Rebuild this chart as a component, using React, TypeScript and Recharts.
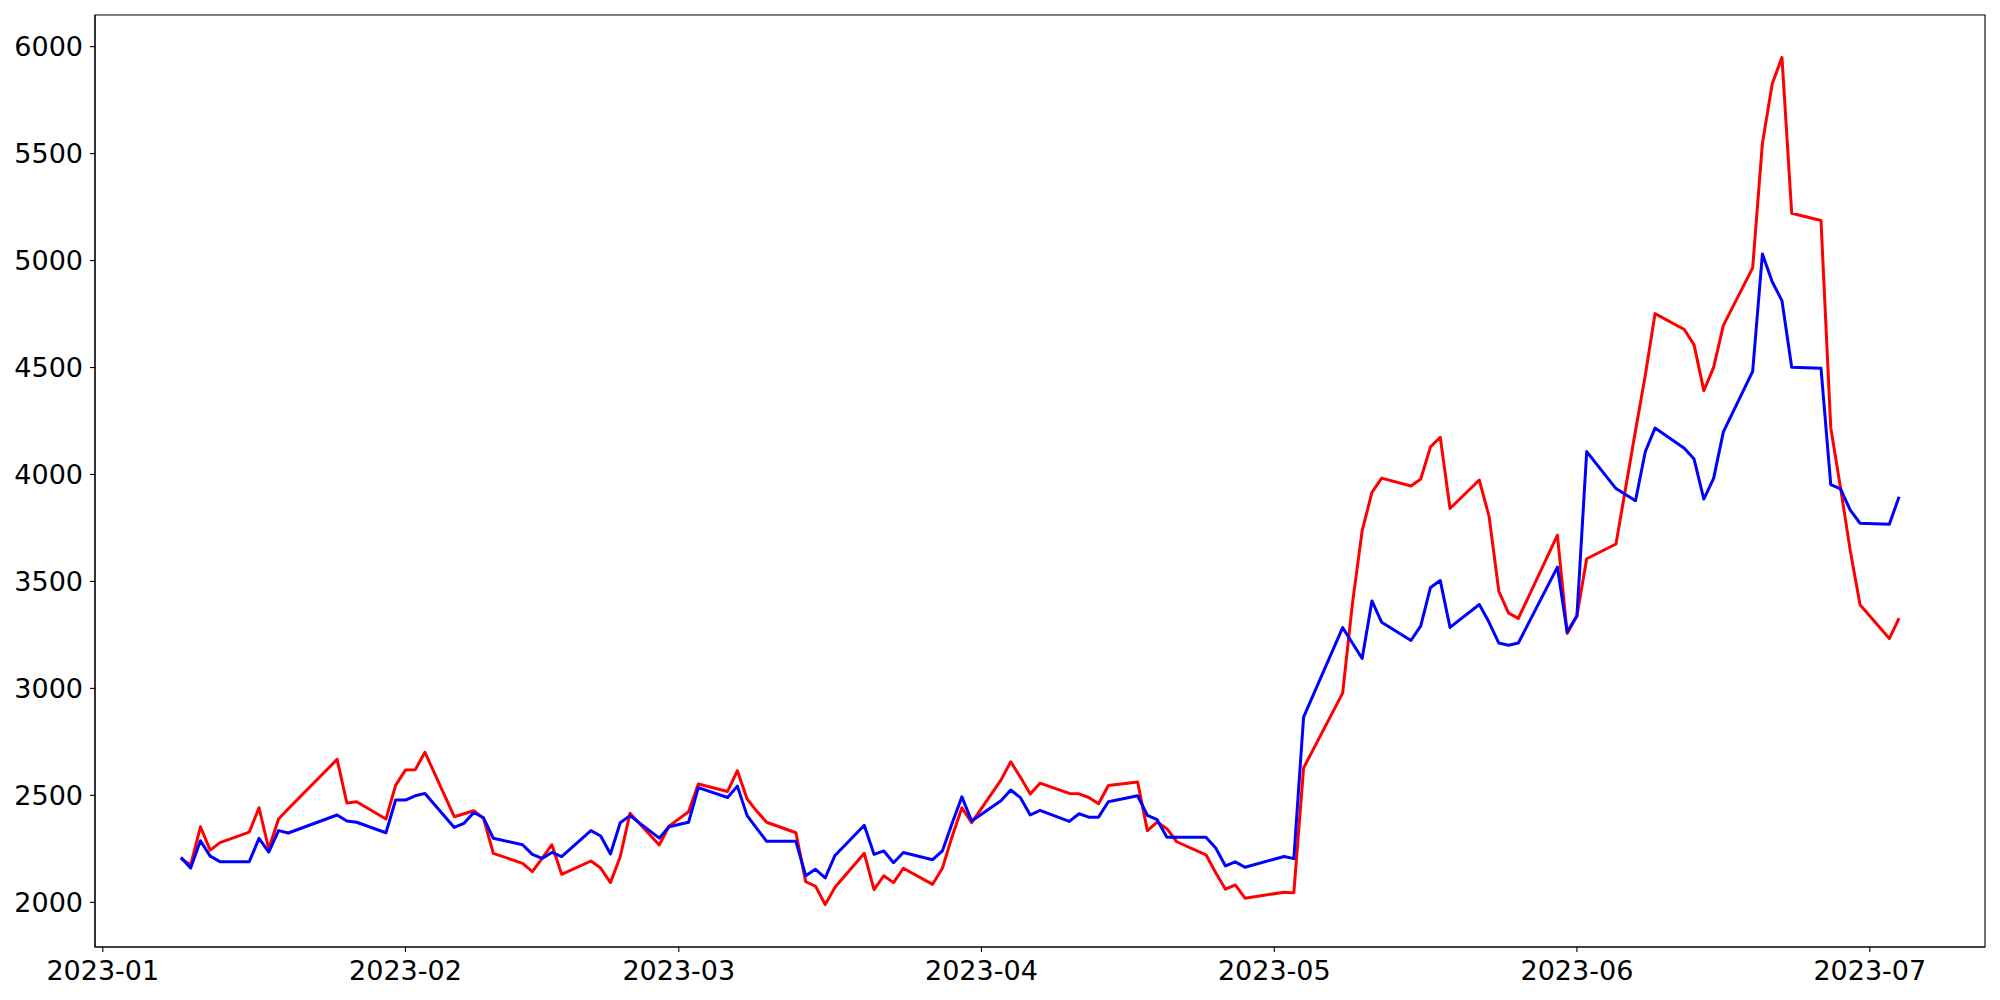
import React from 'react';
import { LineChart, Line, XAxis, YAxis, ReferenceArea } from 'recharts';

// Trading days (Korean market calendar, 2023-01-09 .. 2023-07-04)
const dates: string[] = [
  '2023-01-09', '2023-01-10', '2023-01-11', '2023-01-12', '2023-01-13', '2023-01-16', '2023-01-17', '2023-01-18', '2023-01-19', '2023-01-20',
  '2023-01-25', '2023-01-26', '2023-01-27', '2023-01-30', '2023-01-31',
  '2023-02-01', '2023-02-02', '2023-02-03', '2023-02-06', '2023-02-07', '2023-02-08', '2023-02-09', '2023-02-10', '2023-02-13', '2023-02-14',
  '2023-02-15', '2023-02-16', '2023-02-17', '2023-02-20', '2023-02-21', '2023-02-22', '2023-02-23', '2023-02-24', '2023-02-27', '2023-02-28',
  '2023-03-02', '2023-03-03', '2023-03-06', '2023-03-07', '2023-03-08', '2023-03-09', '2023-03-10', '2023-03-13', '2023-03-14', '2023-03-15',
  '2023-03-16', '2023-03-17', '2023-03-20', '2023-03-21', '2023-03-22', '2023-03-23', '2023-03-24', '2023-03-27', '2023-03-28', '2023-03-29',
  '2023-03-30', '2023-03-31',
  '2023-04-03', '2023-04-04', '2023-04-05', '2023-04-06', '2023-04-07', '2023-04-10', '2023-04-11', '2023-04-12', '2023-04-13', '2023-04-14',
  '2023-04-17', '2023-04-18', '2023-04-19', '2023-04-20', '2023-04-21', '2023-04-24', '2023-04-25', '2023-04-26', '2023-04-27', '2023-04-28',
  '2023-05-02', '2023-05-03', '2023-05-04', '2023-05-08', '2023-05-09', '2023-05-10', '2023-05-11', '2023-05-12', '2023-05-15', '2023-05-16',
  '2023-05-17', '2023-05-18', '2023-05-19', '2023-05-22', '2023-05-23', '2023-05-24', '2023-05-25', '2023-05-26', '2023-05-30', '2023-05-31',
  '2023-06-01', '2023-06-02', '2023-06-05', '2023-06-07', '2023-06-08', '2023-06-09', '2023-06-12', '2023-06-13', '2023-06-14', '2023-06-15',
  '2023-06-16', '2023-06-19', '2023-06-20', '2023-06-21', '2023-06-22', '2023-06-23', '2023-06-26', '2023-06-27', '2023-06-28', '2023-06-29',
  '2023-06-30', '2023-07-03', '2023-07-04',
];

const redValues: number[] = [
  2205, 2174, 2353, 2244, 2279, 2328, 2442, 2249, 2389, 2437, 2668, 2464, 2470, 2389, 2548,
  2618, 2620, 2701, 2400, 2414, 2428, 2392, 2229, 2182, 2143, 2205, 2269, 2131, 2193, 2160, 2092, 2213, 2416, 2268, 2356,
  2423, 2553, 2518, 2615, 2483, 2425, 2374, 2325, 2096, 2076, 1989, 2070, 2229, 2059, 2124, 2092, 2159, 2084, 2159, 2308, 2442, 2372,
  2571, 2657, 2584, 2506, 2557, 2509, 2507, 2490, 2461, 2546, 2562, 2335, 2375, 2344, 2283, 2222, 2138, 2061, 2081, 2019,
  2047, 2044, 2628, 2978, 3395, 3737, 3916, 3983, 3946, 3979, 4129, 4174, 3841, 3974, 3804, 3454, 3352, 3327, 3716, 3257,
  3339, 3606, 3675, 4205, 4463, 4752, 4678, 4606, 4392, 4501, 4697, 4966, 5549, 5826, 5950, 5221, 5187, 4219, 3938, 3643, 3391,
  3233, 3328,
];

const blueValues: number[] = [
  2210, 2160, 2288, 2216, 2190, 2190, 2299, 2235, 2335, 2324, 2408, 2380, 2374, 2325, 2478,
  2478, 2498, 2509, 2350, 2369, 2420, 2395, 2299, 2269, 2224, 2205, 2233, 2213, 2335, 2310, 2226, 2372, 2405, 2300, 2353,
  2374, 2536, 2490, 2543, 2405, 2344, 2285, 2285, 2124, 2154, 2114, 2219, 2360, 2224, 2240, 2185, 2233, 2199, 2240, 2369, 2493, 2380,
  2475, 2525, 2489, 2408, 2430, 2378, 2414, 2398, 2398, 2470, 2498, 2406, 2386, 2304, 2304, 2304, 2254, 2170, 2189, 2164,
  2214, 2204, 2866, 3284, 3212, 3140, 3409, 3309, 3224, 3292, 3472, 3504, 3285, 3392, 3309, 3212, 3202, 3212, 3567, 3264,
  3339, 4107, 3934, 3877, 4106, 4217, 4123, 4072, 3885, 3982, 4199, 4482, 5031, 4901, 4813, 4501, 4497, 3953, 3933, 3833, 3772,
  3767, 3896,
];

const monthTickLabels: string[] = ['2023-01', '2023-02', '2023-03', '2023-04', '2023-05', '2023-06', '2023-07'];
const yTicks: number[] = [2000, 2500, 3000, 3500, 4000, 4500, 5000, 5500, 6000];

const toTs = (s: string) => Date.UTC(+s.slice(0, 4), +s.slice(5, 7) - 1, s.length > 7 ? +s.slice(8, 10) : 1);

const data = dates.map((d, i) => ({ t: toTs(d), red: redValues[i], blue: blueValues[i] }));
const tMin = data[0].t;
const tMax = data[data.length - 1].t;
const tSpan = tMax - tMin;
const xDomain: [number, number] = [tMin - 0.05 * tSpan, tMax + 0.05 * tSpan];
const allValues = [...redValues, ...blueValues];
const vMin = Math.min(...allValues);
const vMax = Math.max(...allValues);
const vSpan = vMax - vMin;
const yDomain: [number, number] = [vMin - 0.05 * vSpan, vMax + 0.05 * vSpan];
const monthTicks = monthTickLabels.map((m) => toTs(m));

const fmtMonth = (t: number) => {
  const d = new Date(t);
  return `${d.getUTCFullYear()}-${String(d.getUTCMonth() + 1).padStart(2, '0')}`;
};

const tickStyle = { fontFamily: 'DejaVu Sans', fontSize: 27, fill: '#000' };

export default function App() {
  return (
    <div style={{ position: 'absolute', left: 0, top: 0, width: 2000, height: 1000, background: '#fff' }}>
      <LineChart width={2000} height={1000} data={data} margin={{ top: 15, right: 15, bottom: 0, left: 0 }}>
        <XAxis
          dataKey="t"
          type="number"
          domain={xDomain}
          allowDataOverflow
          ticks={monthTicks}
          tickFormatter={fmtMonth}
          interval={0}
          height={53}
          tick={tickStyle}
          tickSize={5}
          tickMargin={9}
          stroke="#000"
          axisLine={{ stroke: '#000', strokeWidth: 1.1 }}
          tickLine={{ stroke: '#000', strokeWidth: 1.1 }}
        />
        <YAxis
          type="number"
          domain={yDomain}
          allowDataOverflow
          ticks={yTicks}
          interval={0}
          width={95}
          tick={tickStyle}
          tickSize={5}
          tickMargin={7}
          stroke="#000"
          axisLine={{ stroke: '#000', strokeWidth: 1.1 }}
          tickLine={{ stroke: '#000', strokeWidth: 1.1 }}
        />
        <ReferenceArea
          x1={xDomain[0]}
          x2={xDomain[1]}
          y1={yDomain[0]}
          y2={yDomain[1]}
          fill="none"
          fillOpacity={0}
          stroke="#000"
          strokeWidth={1.1}
          ifOverflow="visible"
        />
        <Line
          type="linear"
          dataKey="red"
          stroke="#ff0000"
          strokeWidth={3}
          style={{ strokeWidth: 3 }}
          strokeLinejoin="round"
          dot={false}
          activeDot={false}
          isAnimationActive={false}
        />
        <Line
          type="linear"
          dataKey="blue"
          stroke="#0000ff"
          strokeWidth={3}
          style={{ strokeWidth: 3 }}
          strokeLinejoin="round"
          dot={false}
          activeDot={false}
          isAnimationActive={false}
        />
      </LineChart>
    </div>
  );
}
